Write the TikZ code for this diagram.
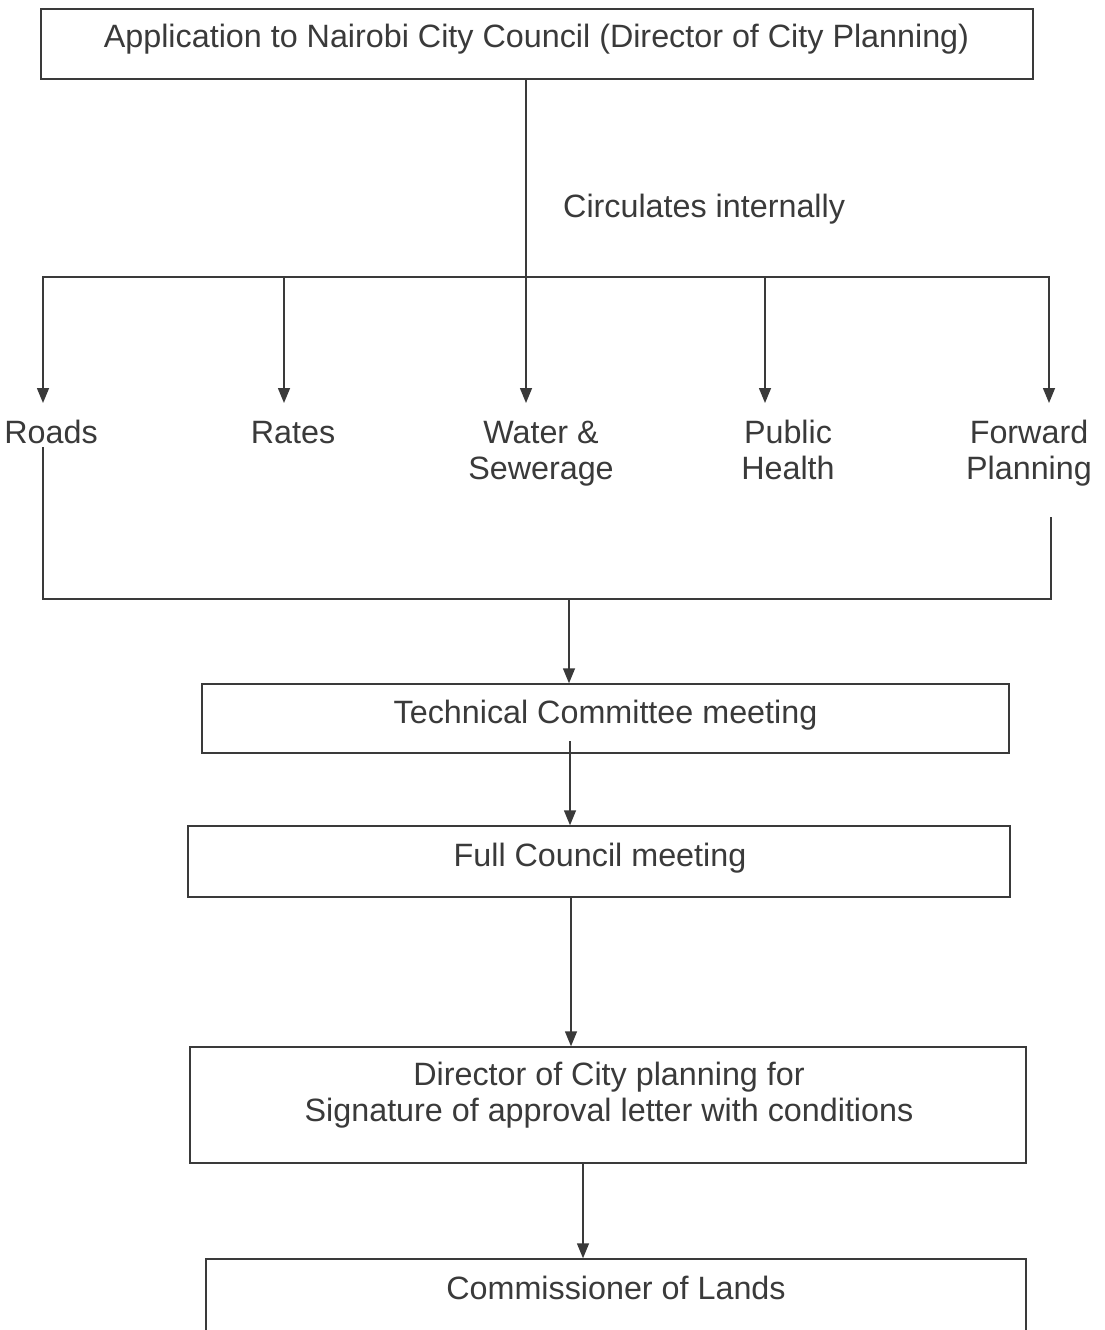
\documentclass[tikz,border=0pt]{standalone}
\usepackage{fontspec}
\setmainfont{Liberation Sans}
\usetikzlibrary{arrows.meta}
\definecolor{ink}{RGB}{58,58,58}
% two centred lines whose baseline is the first line
\newcommand\stackedtext[2]{\begin{tabular}[t]{@{}c@{}}#1\\#2\end{tabular}}
\begin{document}
\begin{tikzpicture}[x=1pt,y=-1pt,
  line/.style={draw=ink, line width=1.5pt},
  arr/.style={line, -{Triangle[width=12pt,length=15pt]}},
  box/.style={draw=ink, line width=1.5pt, inner sep=0pt, minimum width=#1},
  box/.default=100pt,
  lbl/.style={text=ink, font=\fontsize{32.3}{36.5}\selectfont, inner sep=0pt, anchor=base},
]
% page
\fill[white] (0,0) rectangle (1105,1330);
\useasboundingbox (0,0) rectangle (1105,1330);
\clip (0,0) rectangle (1105,1330);

% boxes
\node[box=992pt, minimum height=70pt] (app) at (537,44) {};
\node[box=807pt, minimum height=69pt] (tc)  at (605.5,718.5) {};
\node[box=822pt, minimum height=71pt] (fc)  at (599,861.5) {};
\node[box=836pt, minimum height=116pt] (dir) at (608,1105) {};
\node[box=820pt, minimum height=90pt] (com) at (616,1304) {};

% box texts
\node[lbl] (appT) at (536.5,47.5) {Application to Nairobi City Council (Director of City Planning)};
\node[lbl] (tcT)  at (605.5,723) {Technical Committee meeting};
\node[lbl] (fcT)  at (600,866) {Full Council meeting};
\node[lbl] (dirT) at (609,1085) {\stackedtext{Director of City planning for}{Signature of approval letter with conditions}};
\node[lbl] (comT) at (616,1299) {Commissioner of Lands};

% circulation note
\node[lbl, anchor=base west] (circ) at (563,217) {Circulates internally};

% departments
\node[lbl] (roads)   at (51,443)   {Roads};
\node[lbl] (rates)   at (293,443)  {Rates};
\node[lbl] (water)   at (541,443)  {\stackedtext{Water \&}{Sewerage}};
\node[lbl] (health)  at (788,443)  {\stackedtext{Public}{Health}};
\node[lbl] (forward) at (1029,443) {\stackedtext{Forward}{Planning}};

% distribution bus
\coordinate (jW) at (526,277);
\coordinate (jRates) at (284,277);
\coordinate (jHealth) at (765,277);
\coordinate (tRoads) at (43,403);
\coordinate (tRates) at (284,403);
\coordinate (tWater) at (526,403);
\coordinate (tHealth) at (765,403);
\coordinate (tForward) at (1049,403);

\draw[arr] (app.south -| jW) -- (tWater);
\draw[arr] (jW) -| (tRoads);
\draw[arr] (jW) -| (tForward);
\draw[arr] (jRates) -- (tRates);
\draw[arr] (jHealth) -- (tHealth);

% collecting line
\coordinate (uRoads) at (43,447);
\coordinate (uForward) at (1051,517);
\coordinate (cB) at (569,599);
\draw[line] (uRoads) |- (cB) -| (uForward);
\draw[arr] (cB) -- (cB |- tc.north);

% chain of meetings
\coordinate (tcOut) at (570,741);
\draw[arr] (tcOut) -- (tcOut |- fc.north);
\coordinate (fcOut) at (571,897);
\draw[arr] (fcOut) -- (fcOut |- dir.north);
\coordinate (dirOut) at (583,1163);
\draw[arr] (dirOut) -- (dirOut |- com.north);
\end{tikzpicture}
\end{document}
